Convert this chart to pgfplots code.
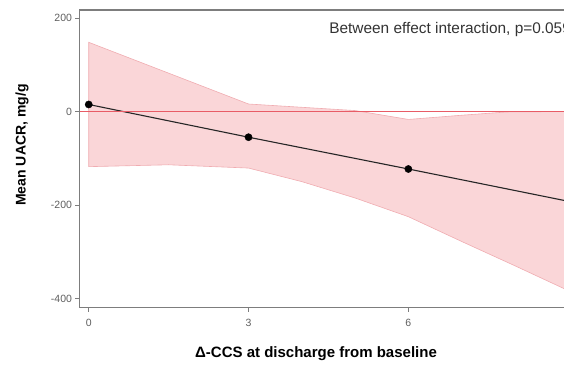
\documentclass[border=0pt]{standalone}
\usepackage{fontspec}
\setmainfont{Liberation Sans}
\usepackage{pgfplots}
\pgfplotsset{compat=1.18}
\definecolor{bandfill}{RGB}{250,214,216}
\definecolor{bandedge}{RGB}{240,172,177}
\definecolor{refred}{RGB}{232,92,102}
\definecolor{axgray}{RGB}{125,125,125}
\definecolor{tickgray}{RGB}{95,95,95}
\begin{document}
\begin{tikzpicture}
\useasboundingbox (-79.5pt,-57.3pt) rectangle (484.5pt,307.7pt);
\begin{axis}[
  at={(0pt,0pt)}, anchor=south west,
  scale only axis, width=515.3pt, height=297.7pt,
  xmin=-0.173, xmax=9.5, ymin=-419.7, ymax=217.1,
  xtick={0,3,6,9}, ytick={-400,-200,0,200},
  tick align=outside, major tick length=4pt,
  tick style={axgray, line width=0.8pt},
  xtick pos=bottom, ytick pos=left,
  axis line style={draw=none},
  clip mode=individual,
  tick label style={font=\fontsize{10.5}{12}\selectfont, text=tickgray},
  xticklabel style={yshift=-4pt},
  /pgf/number format/assume math mode=true,
  xlabel={Δ-CCS at discharge from baseline},
  ylabel={Mean UACR, mg/g},
  xlabel style={font=\fontsize{15}{17}\selectfont\bfseries, at={(axis description cs:0.459,-0.1555)}, anchor=center},
  ylabel style={font=\fontsize{14}{16}\selectfont\bfseries, at={(axis description cs:-0.1115,0.5465)}, anchor=center},
]
\addplot[fill=bandfill, draw=bandedge, line width=0.6pt] coordinates {
  (0,148) (3,16) (4,9) (5,2) (6,-17) (7,-8) (7.85,-1) (9,0)
  (9,-383) (8,-330) (7,-278) (6,-225) (5,-185) (4,-150) (3,-121) (1.5,-114) (0,-118)
} -- cycle;
\addplot[draw=black!85, line width=1.1pt] coordinates {(0,15) (3,-55) (6,-123) (9,-192)};
\addplot[only marks, mark=*, mark size=3.6pt, black] coordinates {(0,15) (3,-55) (6,-123)};
\addplot[color=refred, line width=1.5pt] coordinates {(-0.173,0) (9.5,0)};
\draw[axgray, line width=1.3pt] (rel axis cs:1,1) -- (rel axis cs:0,1) -- (rel axis cs:0,0) -- (rel axis cs:1,0);
\node[anchor=west, inner sep=0pt, font=\fontsize{15.4}{17}\selectfont, text=black!80] at (axis description cs:0.4844,0.9328) {Between effect interaction, p=0.059};
\end{axis}
\end{tikzpicture}
\end{document}
